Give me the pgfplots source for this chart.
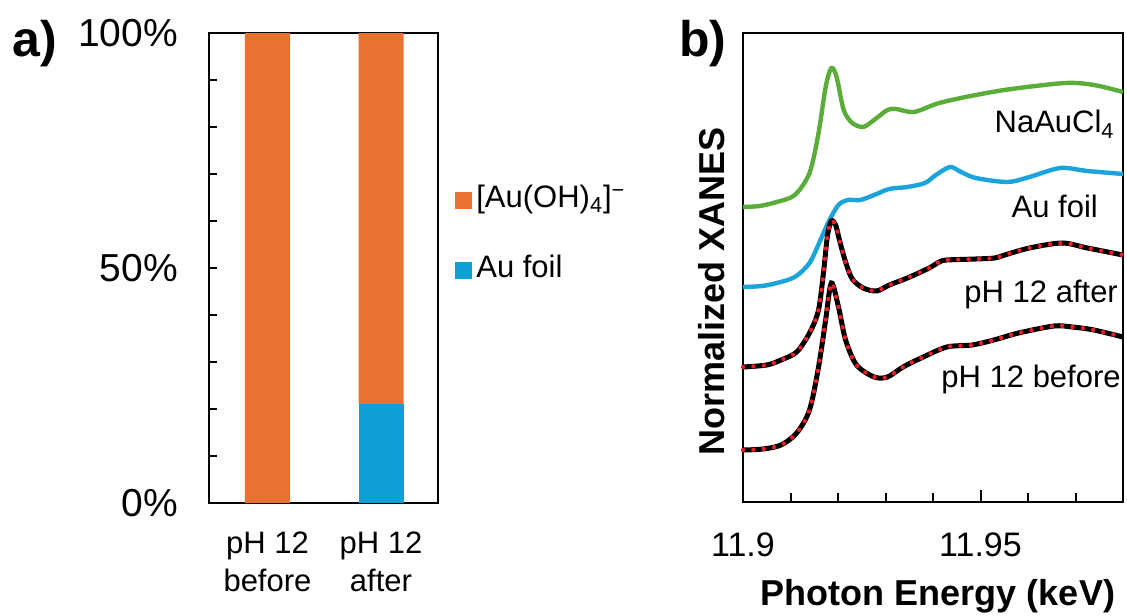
\documentclass[border=0pt]{standalone}
\usepackage{fontspec}
\setmainfont{Liberation Sans}
\usepackage{pgfplots}
\usepackage{pgfplotstable}
\pgfplotsset{compat=1.18}

\definecolor{barorange}{HTML}{E97132}
\definecolor{barblue}{HTML}{0F9ED5}
\definecolor{refgreen}{HTML}{5BAD3A}
\definecolor{refblue}{HTML}{1BA3DC}
\definecolor{fitred}{HTML}{EE1C24}

% Au L3-edge XANES, energy in keV, offset normalised intensity
\pgfplotstableread{
E      mu
11.9000 2.95
11.9035 2.96
11.9071 3.00
11.9109 3.07
11.9140 3.29
11.9159 3.69
11.9174 4.15
11.9186 4.34
11.9197 4.25
11.9212 3.92
11.9230 3.79
11.9253 3.75
11.9276 3.82
11.9304 3.92
11.9323 3.93
11.9360 3.90
11.9413 3.99
11.9490 4.07
11.9565 4.13
11.9679 4.19
11.9739 4.17
11.9800 4.10
}\naaucl

\pgfplotstableread{
E      mu
11.9000 2.15
11.9040 2.16
11.9071 2.19
11.9109 2.25
11.9140 2.39
11.9163 2.62
11.9182 2.82
11.9201 2.97
11.9220 3.02
11.9247 3.02
11.9276 3.07
11.9308 3.13
11.9346 3.15
11.9383 3.19
11.9406 3.27
11.9436 3.35
11.9459 3.30
11.9490 3.24
11.9557 3.20
11.9603 3.25
11.9668 3.34
11.9725 3.31
11.9800 3.28
}\aufoil

\pgfplotstableread{
E      mu
11.9000 1.35
11.9050 1.37
11.9080 1.42
11.9113 1.50
11.9140 1.69
11.9159 1.92
11.9170 2.32
11.9178 2.67
11.9186 2.81
11.9195 2.77
11.9203 2.62
11.9216 2.40
11.9230 2.23
11.9253 2.14
11.9281 2.11
11.9308 2.17
11.9346 2.24
11.9392 2.34
11.9413 2.40
11.9429 2.42
11.9490 2.43
11.9530 2.44
11.9551 2.47
11.9603 2.54
11.9672 2.59
11.9725 2.54
11.9800 2.47
}\phafter

\pgfplotstableread{
E      mu
11.9000 0.52
11.9042 0.53
11.9080 0.57
11.9113 0.69
11.9140 0.92
11.9159 1.35
11.9174 1.82
11.9186 2.19
11.9201 1.95
11.9216 1.62
11.9239 1.37
11.9276 1.25
11.9304 1.25
11.9337 1.35
11.9375 1.44
11.9429 1.55
11.9482 1.57
11.9528 1.62
11.9580 1.69
11.9655 1.76
11.9693 1.75
11.9739 1.72
11.9800 1.65
}\phbefore

\newcommand{\pcfont}{\fontsize{19.5pt}{23pt}\selectfont}
\newcommand{\tickfont}{\fontsize{17pt}{20pt}\selectfont}
\newcommand{\smallfont}{\fontsize{15.5pt}{19pt}\selectfont}
\newcommand{\labelfont}{\fontsize{18pt}{21pt}\selectfont\bfseries}

\begin{document}
\begin{tikzpicture}
\useasboundingbox (0pt,0pt) rectangle (563.5pt,-307.5pt);

% panel labels
\node[anchor=base west, inner sep=0pt, font=\fontsize{25pt}{28pt}\selectfont\bfseries] at (6pt,-28.5pt) {a)};
\node[anchor=base west, inner sep=0pt, font=\fontsize{25pt}{28pt}\selectfont\bfseries] at (339.5pt,-28.5pt) {b)};

% (a) linear combination fit fractions
\begin{axis}[
  at={(104.5pt,-251.5pt)}, anchor=south west,
  scale only axis, width=114.5pt, height=235pt,
  ybar stacked, bar width=22.5pt,
  xmin=0.485, xmax=2.502, ymin=0, ymax=100,
  xtick={1,2}, xticklabels={pH 12\\before, pH 12\\after},
  x tick style={draw=none},
  xticklabel style={align=center, font=\smallfont, yshift=-11pt},
  ytick={0,50,100}, yticklabels={0\%,50\%,100\%},
  minor ytick={10,20,30,40,60,70,80,90},
  yticklabel style={font=\pcfont, xshift=-12pt},
  ytick pos=left, tick align=inside,
  major tick length=4pt, minor tick length=4pt,
  y tick style={line width=1pt, black},
  axis line style={line width=1.3pt},
  reverse legend,
  legend image code/.code={\fill[#1] (0pt,-4.25pt) rectangle (8.5pt,4.25pt);},
  legend style={at={(axis description cs:1.074,0.672)}, anchor=north west,
    draw=none, fill=none, inner sep=0pt, row sep=22pt,
    nodes={inner xsep=2pt, inner ysep=0pt, text height=10pt, text depth=3pt,
      font=\smallfont, anchor=west}},
]
\addplot[fill=barblue, draw=none] coordinates {(1,0) (2,21)};
\addlegendentry{Au foil}
\addplot[fill=barorange, draw=none] coordinates {(1,100) (2,79)};
\addlegendentry{[Au(OH)\textsubscript{4}]\textsuperscript{\char"2212}}
\end{axis}

% (b) XANES spectra with fits
\begin{axis}[
  at={(371.5pt,-251pt)}, anchor=south west,
  scale only axis, width=190pt, height=234.5pt,
  xmin=11.9, xmax=11.98, ymin=0, ymax=4.69,
  clip=false,
  xtick={11.9,11.95}, xticklabels={11.9,11.95},
  minor xtick={11.91,11.92,11.93,11.94,11.96,11.97},
  xticklabel style={font=\tickfont, yshift=-12pt},
  ytick=\empty,
  xtick pos=bottom, tick align=inside,
  major tick length=6pt, minor tick length=4.5pt,
  x tick style={line width=1pt, black},
  axis line style={line width=1.3pt},
  xlabel={Photon Energy (keV)},
  xlabel style={font=\labelfont, at={(axis description cs:0.5,0)}, anchor=base, yshift=-51.5pt, xshift=2.5pt},
  ylabel={Normalized XANES},
  ylabel style={font=\labelfont, at={(axis description cs:-0.0816,0.448)}, anchor=center},
]
\addplot[refgreen, line width=2.2pt, smooth] table[x=E, y=mu] {\naaucl};
\addplot[refblue, line width=2.2pt, smooth] table[x=E, y=mu] {\aufoil};
\addplot[black, line width=2.5pt, smooth] table[x=E, y=mu] {\phafter};
\addplot[fitred, line width=2.2pt, line cap=round, dash pattern=on 0pt off 5.2pt, smooth] table[x=E, y=mu] {\phafter};
\addplot[black, line width=2.5pt, smooth] table[x=E, y=mu] {\phbefore};
\addplot[fitred, line width=2.2pt, line cap=round, dash pattern=on 0pt off 5.2pt, smooth] table[x=E, y=mu] {\phbefore};

\node[anchor=base east, inner sep=0pt, font=\smallfont] at (axis cs:11.9783,3.69) {NaAuCl\textsubscript{4}};
\node[anchor=base east, inner sep=0pt, font=\smallfont] at (axis cs:11.9748,2.84) {Au foil};
\node[anchor=base east, inner sep=0pt, font=\smallfont] at (axis cs:11.9790,2.00) {pH 12 after};
\node[anchor=base east, inner sep=0pt, font=\smallfont] at (axis cs:11.9796,1.15) {pH 12 before};
\end{axis}
\end{tikzpicture}
\end{document}
